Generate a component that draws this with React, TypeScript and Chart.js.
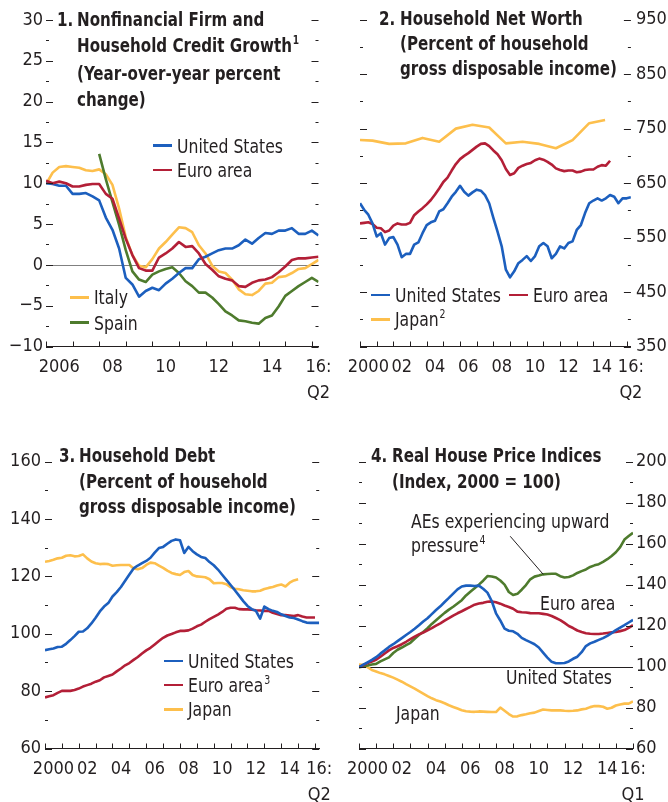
import React, { useEffect, useRef } from "react";
import { Chart, registerables } from "chart.js";

Chart.register(...registerables);

const FONT = '"Liberation Sans Narrow", "Arial Narrow", "DejaVu Sans Condensed", sans-serif';
const INK = "#231f20";
const BLUE = "#1c5fbe";
const RED = "#b31f37";
const YELLOW = "#fdbf4c";
const GREEN = "#4e7b2d";
const FS = 20;
const FS_TICK = 18;
const SX_REG = 0.87;
const SX_BOLD = 0.84;

// ---------- Panel 1: credit growth (quarterly from 2006Q1) ----------
const P1_START = 2006;
const P1_US = [10.0, 9.9, 9.7, 9.7, 8.7, 8.7, 8.8, 8.4, 7.9, 5.8, 4.3, 2.0, -1.6, -2.4, -3.9, -3.2, -2.8, -3.1, -2.3, -1.7, -1.0, -0.4, -0.4, 0.7, 1.0, 1.4, 1.8, 2.0, 2.0, 2.4, 3.1, 2.6, 3.3, 3.9, 3.8, 4.2, 4.2, 4.5, 3.8, 3.8, 4.2, 3.6];
const P1_EURO = [10.3, 10.0, 10.2, 10.0, 9.6, 9.6, 9.8, 9.9, 9.9, 8.7, 8.1, 5.7, 3.2, 1.2, -0.4, -0.7, -0.7, 0.9, 1.4, 2.0, 2.8, 2.2, 2.3, 1.4, 0.1, -0.6, -1.4, -1.7, -1.9, -2.6, -2.7, -2.2, -1.9, -1.8, -1.5, -0.9, -0.2, 0.6, 0.8, 0.8, 0.9, 1.0];
const P1_ITALY = [9.9, 11.3, 12.0, 12.1, 12.0, 11.9, 11.6, 11.5, 11.7, 11.1, 9.8, 6.9, 3.4, 1.2, -0.1, -0.3, 0.7, 2.0, 2.8, 3.7, 4.6, 4.5, 4.0, 2.4, 1.4, -0.1, -0.8, -1.0, -1.8, -3.0, -3.6, -3.7, -3.2, -2.3, -2.2, -1.5, -1.4, -1.0, -0.5, -0.4, 0.1, 0.6];
const P1_SPAIN_START = 2008;
const P1_SPAIN = [13.6, 10.5, 7.7, 4.9, 1.8, -0.8, -1.8, -2.1, -1.2, -0.8, -0.5, -0.3, -1.0, -2.0, -2.6, -3.4, -3.4, -4.0, -4.8, -5.7, -6.2, -6.8, -6.9, -7.1, -7.2, -6.5, -6.2, -5.1, -3.8, -3.2, -2.6, -2.1, -1.6, -2.1];
const P1_X_TICKS = [2006.5, 2008.5, 2010.5, 2012.5, 2014.5, 2016.25];
const P1_X_LABELS: (string | string[])[] = ["2006", "08", "10", "12", "14", ["16:", "Q2"]];
const P1_Y_LABELLED = [-10, -5, 0, 5, 10, 15, 20, 25, 30];

// ---------- Panel 2: household net worth ----------
const P2_START = 2000;
const P2_US = [613, 601, 592, 576, 552, 558, 537, 549, 551, 537, 514, 520, 520, 537, 541, 558, 573, 578, 581, 598, 602, 613, 625, 634, 645, 634, 627, 633, 638, 636, 628, 613, 586, 561, 534, 491, 477, 488, 503, 509, 516, 507, 516, 534, 540, 534, 512, 520, 534, 530, 540, 543, 564, 573, 595, 613, 618, 622, 618, 622, 628, 625, 613, 622, 622, 624];
const P2_EURO = [576, 577, 578, 575, 568, 567, 560, 563, 572, 576, 574, 574, 577, 591, 598, 604, 611, 619, 629, 640, 652, 660, 673, 685, 694, 700, 705, 711, 717, 722, 723, 718, 710, 703, 692, 676, 665, 668, 678, 682, 685, 687, 692, 695, 693, 689, 684, 677, 674, 672, 673, 673, 670, 671, 674, 675, 675, 680, 683, 682, 691];
const P2_JAPAN_X = [2000, 2000.75, 2001.75, 2002.75, 2003.75, 2004.75, 2005.75, 2006.75, 2007.75, 2008.75, 2009.75, 2010.75, 2011.75, 2012.75, 2013.75, 2014.7];
const P2_JAPAN = [729, 728, 722, 723, 733, 726, 750, 757, 752, 723, 726, 722, 714, 729, 760, 766];
const P2_X_TICKS = [2000.5, 2002.5, 2004.5, 2006.5, 2008.5, 2010.5, 2012.5, 2014.5, 2016.25];
const P2_X_LABELS: (string | string[])[] = ["2000", "02", "04", "06", "08", "10", "12", "14", ["16:", "Q2"]];
const P2_Y_LABELLED = [350, 450, 550, 650, 750, 850, 950];

// ---------- Panel 3: household debt ----------
const P3_START = 2000;
const P3_US = [94.3, 94.6, 94.9, 95.4, 95.5, 96.5, 97.8, 99.2, 100.7, 100.8, 101.9, 103.6, 105.6, 107.8, 109.5, 110.7, 113.0, 114.5, 116.3, 118.5, 120.7, 122.8, 123.8, 124.6, 125.4, 126.5, 128.3, 129.9, 130.3, 131.4, 132.4, 132.9, 132.6, 128.2, 130.3, 128.8, 127.7, 126.8, 126.4, 125.0, 123.9, 122.4, 120.6, 118.8, 117.0, 115.2, 113.3, 111.4, 109.7, 108.6, 108.0, 105.3, 109.5, 108.6, 108.0, 107.6, 106.8, 106.2, 105.7, 105.5, 105.0, 104.4, 103.9, 103.8, 103.8, 103.8];
const P3_EURO = [77.8, 78.2, 78.6, 79.4, 80.1, 80.1, 80.1, 80.4, 80.9, 81.6, 82.1, 82.6, 83.3, 83.8, 84.8, 85.3, 85.8, 86.9, 87.9, 89.0, 89.8, 90.9, 91.9, 93.1, 94.2, 95.1, 96.3, 97.5, 98.6, 99.4, 99.9, 100.5, 101.0, 101.0, 101.2, 101.8, 102.6, 103.2, 104.2, 105.1, 105.9, 106.7, 107.6, 108.7, 109.1, 109.1, 108.6, 108.5, 108.5, 108.4, 108.2, 108.1, 108.0, 108.0, 107.3, 106.9, 106.5, 106.5, 106.4, 106.2, 106.5, 106.0, 105.7, 105.7, 105.7];
const P3_JAPAN = [125.1, 125.4, 125.8, 126.3, 126.5, 127.2, 127.4, 127.0, 127.1, 127.7, 126.3, 125.2, 124.6, 124.3, 124.4, 124.3, 123.7, 123.9, 124.0, 124.0, 124.0, 122.8, 122.5, 122.9, 124.0, 124.8, 124.6, 123.8, 123.0, 122.0, 121.2, 120.8, 120.5, 121.5, 121.9, 120.5, 120.0, 119.9, 119.7, 119.0, 117.6, 117.7, 117.7, 117.3, 116.2, 115.7, 115.5, 115.2, 115.0, 114.8, 114.8, 115.0, 115.6, 116.0, 116.3, 116.8, 117.2, 116.5, 117.8, 118.6, 119.0];
const P3_X_TICKS = [2000.5, 2002.5, 2004.5, 2006.5, 2008.5, 2010.5, 2012.5, 2014.5, 2016.25];
const P3_X_LABELS: (string | string[])[] = ["2000", "02", "04", "06", "08", "10", "12", "14", ["16:", "Q2"]];
const P3_Y_LABELLED = [60, 80, 100, 120, 140, 160];

// ---------- Panel 4: real house price indices ----------
const P4_START = 2000;
const P4_US = [99.7, 100.9, 102.1, 103.3, 104.6, 106.3, 107.9, 109.6, 110.9, 112.4, 113.9, 115.4, 116.9, 118.5, 120.2, 122.0, 123.6, 125.6, 127.6, 129.4, 131.5, 133.5, 135.6, 137.7, 139.1, 139.5, 139.5, 139.3, 139.5, 138.0, 136.1, 132.0, 126.0, 122.5, 118.5, 117.5, 117.2, 116.0, 114.0, 112.9, 111.9, 110.9, 109.3, 106.8, 104.4, 102.3, 101.6, 101.6, 101.7, 102.5, 103.8, 104.8, 107.0, 110.0, 111.3, 112.1, 113.0, 113.9, 115.0, 116.3, 117.8, 119.0, 120.2, 121.5, 122.8];
const P4_EURO = [99.7, 100.7, 101.7, 102.5, 103.3, 104.8, 106.4, 107.9, 109.1, 109.9, 110.9, 112.1, 113.4, 114.6, 115.7, 116.6, 117.7, 118.8, 120.0, 121.1, 122.4, 123.6, 124.9, 126.0, 127.0, 128.1, 129.1, 130.2, 130.8, 131.1, 131.6, 131.8, 131.4, 130.7, 129.8, 129.1, 128.2, 126.8, 126.5, 126.4, 126.1, 126.0, 126.0, 125.7, 125.4, 124.7, 123.7, 122.7, 121.3, 119.8, 118.8, 117.6, 116.9, 116.3, 116.0, 115.9, 115.9, 116.1, 116.4, 116.7, 116.9, 117.3, 117.8, 118.9, 120.2];
const P4_AES = [99.7, 100.1, 100.5, 101.0, 101.3, 102.5, 103.5, 104.5, 106.6, 108.2, 109.3, 110.5, 111.6, 113.6, 115.4, 116.9, 118.7, 120.8, 122.6, 124.4, 126.2, 127.8, 129.2, 130.8, 132.4, 134.7, 136.5, 138.2, 140.0, 141.9, 144.2, 144.0, 143.5, 142.0, 140.0, 136.4, 134.9, 135.5, 137.5, 139.8, 142.6, 143.9, 144.4, 145.0, 145.2, 145.3, 145.3, 144.1, 143.5, 143.7, 144.5, 145.7, 146.6, 147.4, 148.6, 149.4, 150.0, 151.1, 152.4, 154.0, 155.8, 158.3, 162.0, 163.7, 165.3];
const P4_JAPAN = [101.0, 100.8, 99.7, 98.3, 97.6, 96.8, 96.2, 95.4, 94.6, 93.6, 92.6, 91.4, 90.3, 89.2, 88.0, 86.8, 85.6, 84.5, 83.6, 82.9, 82.1, 81.1, 80.3, 79.5, 78.7, 78.2, 78.0, 77.9, 78.1, 78.0, 77.9, 77.8, 77.8, 80.0, 78.4, 76.8, 75.6, 75.7, 76.3, 76.7, 77.2, 77.5, 78.3, 79.0, 78.8, 78.6, 78.6, 78.6, 78.4, 78.3, 78.4, 78.6, 79.1, 79.4, 80.2, 80.7, 80.7, 80.4, 79.4, 79.9, 81.0, 81.5, 81.9, 81.9, 83.0];
const P4_X_TICKS = [2000.5, 2002.5, 2004.5, 2006.5, 2008.5, 2010.5, 2012.5, 2014.5, 2016];
const P4_X_LABELS: (string | string[])[] = ["2000", "02", "04", "06", "08", "10", "12", "14", ["16:", "Q1"]];
const P4_Y_LABELLED = [60, 80, 100, 120, 140, 160, 180, 200];
const P4_LEADER_FROM: [number, number] = [2008.83, 163.6];
const P4_LEADER_TO: [number, number] = [2010.76, 145.0];

// ---------- helpers ----------
type Pt = { x: number; y: number };
const quarters = (start: number, vals: number[]): Pt[] => vals.map((v, i) => ({ x: start + i / 4, y: v }));
const pairs = (xs: number[], ys: number[]): Pt[] => ys.map((v, i) => ({ x: xs[i], y: v }));
const range = (a: number, b: number, s: number) => {
  const out: number[] = [];
  for (let v = a; v <= b + 1e-9; v += s) out.push(Math.round(v * 1000) / 1000);
  return out;
};
const fmt = (v: number) => (v < 0 ? "\u2212" + Math.abs(v) : String(v));

interface Panel {
  xMin: number; xMax: number; xTicks: number[]; xLabels: (string | string[])[];
  yMin: number; yMax: number; yStep: number; yLabelled: number[];
  side: "left" | "right";
  datasets: { data: Pt[]; color: string; label: string; order: number }[];
  refLine?: { value: number; color: string };
  leader?: { from: [number, number]; to: [number, number] };
  area: { left: number; right: number; top: number; bottom: number };
  labelPad: number;
}

const W = 334;
const H = 401;

const decorPlugin = {
  id: "decor",
  beforeDatasetsDraw(chart: any, _a: any, opts: any) {
    const { ctx, chartArea: ca, scales } = chart;
    if (opts.refLine) {
      const py = Math.round(scales.y.getPixelForValue(opts.refLine.value)) + 0.5;
      ctx.save();
      ctx.strokeStyle = opts.refLine.color;
      ctx.lineWidth = 1;
      ctx.beginPath();
      ctx.moveTo(ca.left, py);
      ctx.lineTo(ca.right, py);
      ctx.stroke();
      ctx.restore();
    }
  },
  afterDraw(chart: any, _a: any, opts: any) {
    const { ctx, chartArea: ca, scales } = chart;
    const x = scales.x;
    const y = scales.y;
    ctx.save();
    ctx.strokeStyle = INK;
    ctx.lineWidth = 1.2;
    for (const t of y.ticks) {
      const py = Math.round(y.getPixelForValue(t.value)) + 0.5;
      const len = t.label !== "" ? 7 : 3;
      ctx.beginPath();
      ctx.moveTo(ca.left, py);
      ctx.lineTo(ca.left + len, py);
      ctx.moveTo(ca.right - len, py);
      ctx.lineTo(ca.right, py);
      ctx.stroke();
    }
    ctx.lineWidth = 1;
    for (let yr = Math.ceil(x.min); yr <= Math.floor(x.max); yr++) {
      const px = Math.round(x.getPixelForValue(yr)) + 0.5;
      ctx.beginPath();
      ctx.moveTo(px, ca.bottom);
      ctx.lineTo(px, ca.bottom - 5);
      ctx.stroke();
    }
    if (opts.leader) {
      const f = opts.leader.from;
      const t = opts.leader.to;
      ctx.strokeStyle = INK;
      ctx.lineWidth = 1;
      ctx.beginPath();
      ctx.moveTo(x.getPixelForValue(f[0]), y.getPixelForValue(f[1]));
      ctx.lineTo(x.getPixelForValue(t[0]), y.getPixelForValue(t[1]));
      ctx.stroke();
    }
    ctx.restore();
  },
};

function makeConfig(p: Panel): any {
  const axisW = p.side === "left" ? p.area.left : W - p.area.right;
  const padding = {
    top: p.area.top,
    bottom: 0,
    left: p.side === "left" ? 0 : p.area.left,
    right: p.side === "left" ? W - p.area.right : 0,
  };
  const xH = H - p.area.bottom;
  const yTicks = range(p.yMin, p.yMax, p.yStep);
  return {
    type: "line",
    data: {
      datasets: p.datasets.map((d) => ({
        label: d.label,
        data: d.data,
        borderColor: d.color,
        backgroundColor: d.color,
        borderWidth: 2.6,
        pointRadius: 0,
        fill: false,
        tension: 0,
        order: d.order,
        borderJoinStyle: "round",
      })),
    },
    plugins: [decorPlugin],
    options: {
      responsive: false,
      animation: false,
      devicePixelRatio: 1,
      layout: { padding },
      plugins: {
        legend: { display: false },
        tooltip: { enabled: false },
        decor: { refLine: p.refLine, leader: p.leader },
      },
      scales: {
        x: {
          type: "linear",
          min: p.xMin,
          max: p.xMax,
          grid: { display: false, drawTicks: false },
          border: { display: true, color: INK, width: 1 },
          ticks: {
            autoSkip: false,
            maxRotation: 0,
            minRotation: 0,
            padding: 8,
            color: INK,
            font: { family: FONT, size: FS_TICK, lineHeight: 1.44 },
            callback: (_v: any, i: number) => p.xLabels[i],
          },
          afterBuildTicks: (s: any) => {
            s.ticks = p.xTicks.map((v) => ({ value: v }));
          },
          afterFit: (s: any) => {
            s.height = xH;
            s.paddingLeft = 0;
            s.paddingRight = 0;
          },
        },
        y: {
          type: "linear",
          position: p.side,
          min: p.yMin,
          max: p.yMax,
          grid: { display: false, drawTicks: false },
          border: { display: false },
          ticks: {
            autoSkip: false,
            padding: p.labelPad,
            color: INK,
            font: { family: FONT, size: FS_TICK },
            callback: (v: number) => (p.yLabelled.includes(v) ? fmt(v) : ""),
          },
          afterBuildTicks: (s: any) => {
            s.ticks = yTicks.map((v) => ({ value: v }));
          },
          afterFit: (s: any) => {
            s.width = axisW;
            s.paddingTop = 0;
            s.paddingBottom = 0;
          },
        },
      },
    },
  };
}

const PANEL1: Panel = {
  xMin: 2006, xMax: 2016.25, xTicks: P1_X_TICKS, xLabels: P1_X_LABELS,
  yMin: -10, yMax: 30, yStep: 2.5, yLabelled: P1_Y_LABELLED,
  side: "left",
  datasets: [
    { data: quarters(P1_START, P1_US), color: BLUE, label: "United States", order: 1 },
    { data: quarters(P1_START, P1_EURO), color: RED, label: "Euro area", order: 0 },
    { data: quarters(P1_START, P1_ITALY), color: YELLOW, label: "Italy", order: 3 },
    { data: quarters(P1_SPAIN_START, P1_SPAIN), color: GREEN, label: "Spain", order: 2 },
  ],
  refLine: { value: 0, color: "#808080" },
  area: { left: 46, right: 318.5, top: 20, bottom: 346.5 },
  labelPad: 3,
};

const PANEL2: Panel = {
  xMin: 2000, xMax: 2016.25, xTicks: P2_X_TICKS, xLabels: P2_X_LABELS,
  yMin: 350, yMax: 950, yStep: 50, yLabelled: P2_Y_LABELLED,
  side: "right",
  datasets: [
    { data: quarters(P2_START, P2_US), color: BLUE, label: "United States", order: 0 },
    { data: quarters(P2_START, P2_EURO), color: RED, label: "Euro area", order: 1 },
    { data: pairs(P2_JAPAN_X, P2_JAPAN), color: YELLOW, label: "Japan", order: 2 },
  ],
  area: { left: 26, right: 296.9, top: 19.7, bottom: 346.5 },
  labelPad: 5,
};

const PANEL3: Panel = {
  xMin: 2000, xMax: 2016.25, xTicks: P3_X_TICKS, xLabels: P3_X_LABELS,
  yMin: 60, yMax: 160, yStep: 10, yLabelled: P3_Y_LABELLED,
  side: "left",
  datasets: [
    { data: quarters(P3_START, P3_US), color: BLUE, label: "United States", order: 0 },
    { data: quarters(P3_START, P3_EURO), color: RED, label: "Euro area", order: 1 },
    { data: quarters(P3_START, P3_JAPAN), color: YELLOW, label: "Japan", order: 2 },
  ],
  area: { left: 45, right: 319.2, top: 60.7, bottom: 347.5 },
  labelPad: 4,
};

const PANEL4: Panel = {
  xMin: 2000, xMax: 2016, xTicks: P4_X_TICKS, xLabels: P4_X_LABELS,
  yMin: 60, yMax: 200, yStep: 10, yLabelled: P4_Y_LABELLED,
  side: "right",
  datasets: [
    { data: quarters(P4_START, P4_US), color: BLUE, label: "United States", order: 0 },
    { data: quarters(P4_START, P4_EURO), color: RED, label: "Euro area", order: 1 },
    { data: quarters(P4_START, P4_AES), color: GREEN, label: "AEs experiencing upward pressure", order: 2 },
    { data: quarters(P4_START, P4_JAPAN), color: YELLOW, label: "Japan", order: 3 },
  ],
  refLine: { value: 100, color: INK },
  leader: { from: P4_LEADER_FROM, to: P4_LEADER_TO },
  area: { left: 25, right: 299, top: 60.7, bottom: 347.5 },
  labelPad: 3,
};

function PanelChart({ panel, left, top }: { panel: Panel; left: number; top: number }) {
  const ref = useRef<HTMLCanvasElement>(null);
  useEffect(() => {
    const chart = new Chart(ref.current as HTMLCanvasElement, makeConfig(panel));
    return () => chart.destroy();
  }, [panel]);
  return (
    <canvas
      ref={ref}
      width={W}
      height={H}
      style={{ position: "absolute", left, top, width: W, height: H, display: "block" }}
    />
  );
}

const textBase: React.CSSProperties = {
  position: "absolute",
  fontFamily: FONT,
  fontSize: FS,
  color: INK,
  whiteSpace: "nowrap",
  pointerEvents: "none",
  transformOrigin: "0 50%",
};

const Sup = ({ n }: { n: string }) => (
  <span style={{ fontSize: 12, position: "relative", top: -8, marginLeft: 1 }}>{n}</span>
);

function Title({ num, lines, numX, textX, centerY, lh }: { num: string; lines: React.ReactNode[]; numX: number; textX: number; centerY: number; lh: number }) {
  const top = centerY - lh / 2;
  const t = `scaleX(${SX_BOLD})`;
  return (
    <>
      <div style={{ ...textBase, fontWeight: 700, left: numX, top, lineHeight: lh + "px", transform: t }}>{num}</div>
      <div style={{ ...textBase, fontWeight: 700, left: textX, top, lineHeight: lh + "px", transform: t, transformOrigin: "0 0" }}>
        {lines.map((l, i) => (
          <div key={i}>{l}</div>
        ))}
      </div>
    </>
  );
}

function LegendItem({ x, y, color, children }: { x: number; y: number; color: string; children: React.ReactNode }) {
  return (
    <>
      <div style={{ position: "absolute", left: x, top: y - 1.25, width: 19, height: 2.5, background: color }} />
      <div style={{ ...textBase, left: x + 24, top: y - 12, lineHeight: "24px", transform: `scaleX(${SX_REG})` }}>{children}</div>
    </>
  );
}

function Label({ x, y, children }: { x: number; y: number; children: React.ReactNode }) {
  return (
    <div style={{ ...textBase, left: x, top: y - 12, lineHeight: "24px", transform: `scaleX(${SX_REG})` }}>{children}</div>
  );
}

export default function App() {
  return (
    <div style={{ position: "absolute", left: 0, top: 0, width: 668, height: 802, background: "#fff", overflow: "hidden" }}>
      <PanelChart panel={PANEL1} left={0} top={0} />
      <PanelChart panel={PANEL2} left={334} top={0} />
      <PanelChart panel={PANEL3} left={0} top={401} />
      <PanelChart panel={PANEL4} left={334} top={401} />

      <Title
        num="1."
        numX={57}
        textX={77}
        centerY={20}
        lh={25.6}
        lines={["Nonfinancial Firm and", <span>Household Credit Growth<Sup n="1" /></span>, "(Year-over-year percent", "change)"]}
      />
      <Title
        num="2."
        numX={379}
        textX={400}
        centerY={18.3}
        lh={25}
        lines={["Household Net Worth", "(Percent of household", "gross disposable income)"]}
      />
      <Title
        num="3."
        numX={59}
        textX={79}
        centerY={456}
        lh={25.5}
        lines={["Household Debt", "(Percent of household", "gross disposable income)"]}
      />
      <Title
        num="4."
        numX={371}
        textX={392}
        centerY={456}
        lh={25.5}
        lines={["Real House Price Indices", "(Index, 2000 = 100)"]}
      />

      <LegendItem x={153} y={145.7} color={BLUE}>United States</LegendItem>
      <LegendItem x={153} y={170} color={RED}>Euro area</LegendItem>
      <LegendItem x={70} y={297.3} color={YELLOW}>Italy</LegendItem>
      <LegendItem x={70} y={322.7} color={GREEN}>Spain</LegendItem>

      <LegendItem x={370.7} y={295} color={BLUE}>United States</LegendItem>
      <LegendItem x={509} y={295} color={RED}>Euro area</LegendItem>
      <LegendItem x={370.7} y={319.3} color={YELLOW}>Japan<Sup n="2" /></LegendItem>

      <LegendItem x={164} y={661} color={BLUE}>United States</LegendItem>
      <LegendItem x={164} y={685} color={RED}>Euro area<Sup n="3" /></LegendItem>
      <LegendItem x={164} y={709.3} color={YELLOW}>Japan</LegendItem>

      <Label x={411} y={520.7}>AEs experiencing upward</Label>
      <Label x={411} y={545}>pressure<Sup n="4" /></Label>
      <Label x={540} y={603}>Euro area</Label>
      <Label x={506} y={677}>United States</Label>
      <Label x={396} y={713}>Japan</Label>
    </div>
  );
}
